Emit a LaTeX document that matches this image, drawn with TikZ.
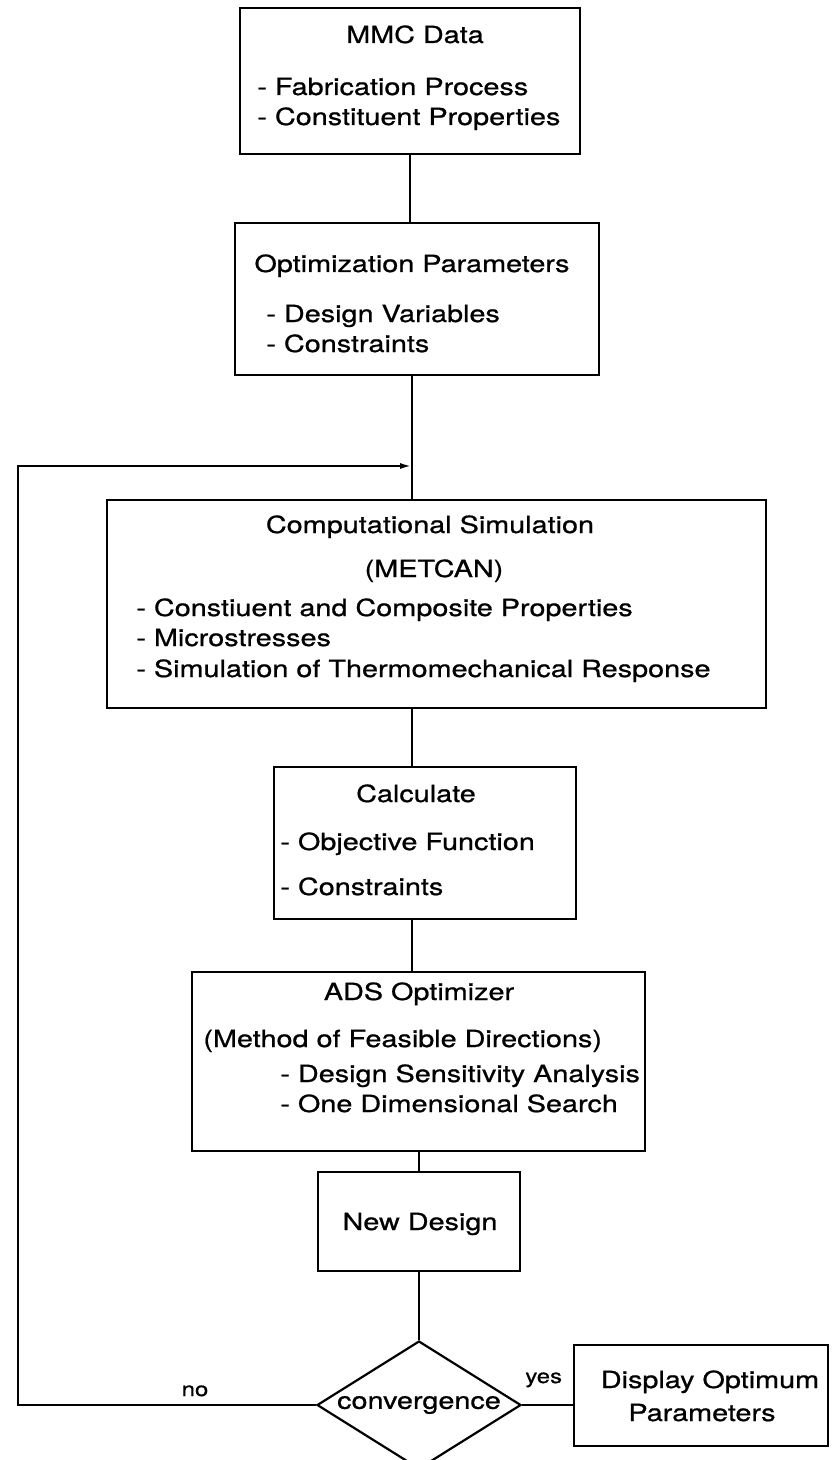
\documentclass[tikz,border=0pt]{standalone}
\usepackage{fontspec}
\setmainfont{TeX Gyre Heros}[FakeStretch=1.22, FakeBold=0.8]
\usetikzlibrary{arrows.meta}
\usetikzlibrary{positioning, shapes.geometric}
\tikzset{
stage/.style = { rectangle, draw = black, line width = 1.1pt, inner sep = 0pt },
decision/.style = { diamond, draw = black, line width = 1.1pt, inner sep = 0pt, aspect = 1.5 },
heading/.style = { inner sep = 0pt, anchor = base },
bullet/.style = { inner sep = 0pt, anchor = base west },
answer/.style = { inner sep = 0pt, anchor = base, font = \fontsize{9.8}{12}\selectfont },
}

\begin{document}
\begin{tikzpicture}[x=0.5pt, y=-0.5pt, font=\fontsize{11.8}{15}\selectfont]
      \useasboundingbox (0,0) rectangle (831,1460);
      % boxes
      \begin{scope}
        \node[stage, minimum width=170pt, minimum height=73pt] (mmc) at (410,81) {};
        \node[stage, minimum width=182pt, minimum height=76pt] (opt) at (417,299) {};
        \node[stage, minimum width=329.5pt, minimum height=104pt] (comp) at (436.5,604) {};
        \node[stage, minimum width=151pt, minimum height=76pt] (calc) at (425,843) {};
        \node[stage, minimum width=226.5pt, minimum height=89.5pt] (ads) at (418.5,1061.5) {};
        \node[stage, minimum width=101pt, minimum height=49.5pt] (newd) at (419,1221.5) {};
        \node[decision, minimum width=102pt, minimum height=64pt] (conv) at (419,1405) {convergence};
        \node[stage, minimum width=127pt, minimum height=50.5pt] (disp) at (701,1395.5) {};
      \end{scope}
      % texts
      \begin{scope}
        \node[heading] (mmctitle) at (415,43) {MMC Data};
        \node[bullet] (mmcfab) at (257,95) {- Fabrication Process};
        \node[bullet] (mmccon) at (257,125) {- Constituent Properties};
        \node[heading] (opttitle) at (412,272) {Optimization Parameters};
        \node[bullet] (optvar) at (266,322) {- Design Variables};
        \node[bullet] (optcon) at (266,352) {- Constraints};
        \node[heading] (comptitle) at (430,533) {Computational Simulation};
        \node[heading] (compcode) at (434,577) {(METCAN)};
        \node[bullet] (compprop) at (136,616) {- Constiuent and Composite Properties};
        \node[bullet] (compmicro) at (136,646) {- Microstresses};
        \node[bullet] (compsim) at (136,677) {- Simulation of Thermomechanical Response};
        \node[heading] (calctitle) at (416,802) {Calculate};
        \node[bullet] (calcobj) at (280,850) {- Objective Function};
        \node[bullet] (calccon) at (280,895) {- Constraints};
        \node[heading] (adstitle) at (419,1000) {ADS Optimizer};
        \node[bullet] (adsmethod) at (203,1047) {(Method of Feasible Directions)};
        \node[bullet] (adssens) at (280,1082) {- Design Sensitivity Analysis};
        \node[bullet] (adssearch) at (280,1112) {- One Dimensional Search};
        \node[heading] (newdtitle) at (420,1230) {New Design};
        \node[heading] (disptitle) at (710,1388) {Display Optimum};
        \node[heading] (dispparam) at (702,1421) {Parameters};
        \node[answer] (no) at (195,1396) {no};
        \node[bullet, font=\fontsize{9.8}{12}\selectfont] (yes) at (525,1383) {yes};
      \end{scope}
      % connectors
      \begin{scope}[line width=1.1pt]
        \coordinate (corner) at (18,466);
        \coordinate (join) at (412,466);
        \draw (mmc.south) -- (mmc.south |- opt.north);
        \draw (join |- opt.south) -- (join |- comp.north);
        \draw (join |- comp.south) -- (join |- calc.north);
        \draw (join |- calc.south) -- (join |- ads.north);
        \draw (newd.north |- ads.south) -- (newd.north);
        \draw (newd.south) -- (conv.north);
        \draw (conv.east) -- (conv.east -| disp.west);
        \draw [-{Latex[length=6pt, width=3pt]}] (conv.west) -| (corner) -- (join);
      \end{scope}
\end{tikzpicture}
\end{document}
